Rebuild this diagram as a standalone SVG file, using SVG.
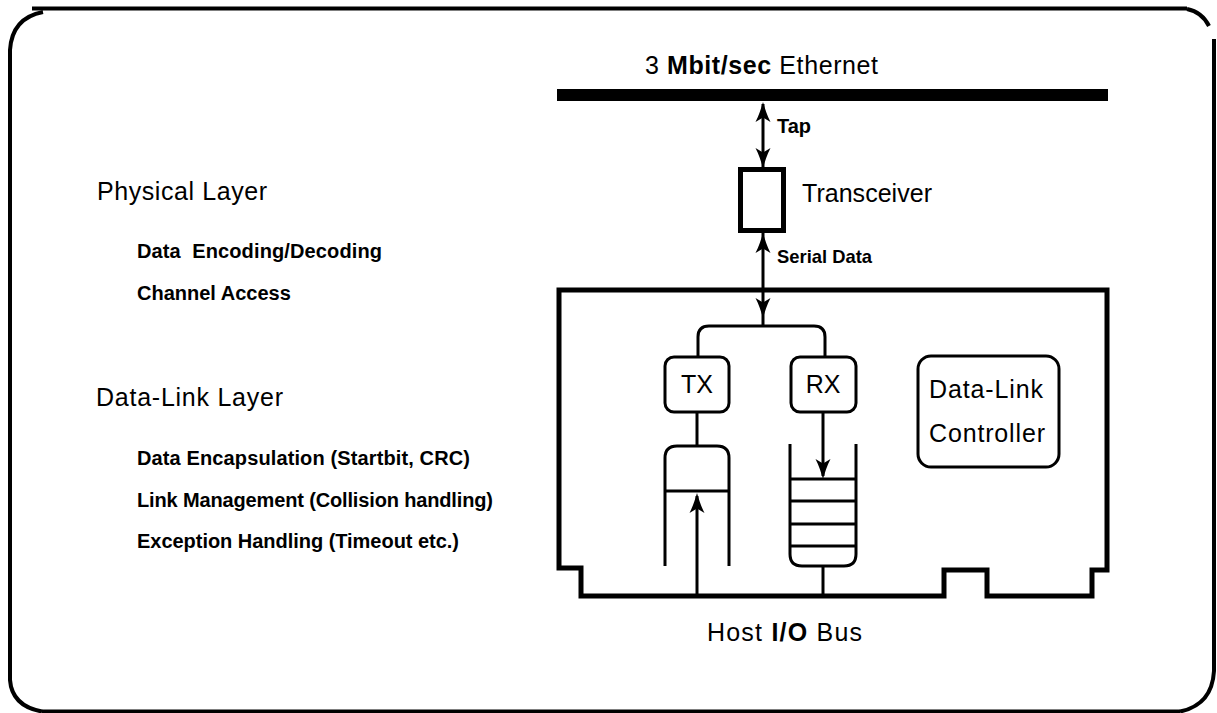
<svg xmlns="http://www.w3.org/2000/svg" width="1217" height="713" viewBox="0 0 1217 713">
<style>
.t{font-family:"Liberation Sans",Arial,Helvetica,sans-serif;fill:#000;}
.r{font-size:25px;}
.b{font-size:20px;font-weight:bold;}
.ln{fill:none;stroke:#000;stroke-width:3;}
.fr{fill:none;stroke:#000;stroke-width:4;}
.card{fill:none;stroke:#000;stroke-width:5;stroke-linejoin:miter;}
</style>
<defs>
<path id="ah" d="M0,0 C2,7 4,13 7.5,20 L0,15.5 L-7.5,20 C-4,13 -2,7 0,0 Z" fill="#000"/>
</defs>
<rect width="1217" height="713" fill="#fff"/>
<g id="frame">
<path class="fr" d="M32,8.5 H1187" stroke-width="5"/>
<path class="fr" d="M43,12 Q12,18 10,50 V680 Q12,706 42,711.5"/>
<path class="fr" d="M42,711.5 H1180" stroke-width="2"/>
<path class="fr" d="M1187,9 Q1202,12 1209,26" stroke-width="3"/>
<path class="fr" d="M1214,39 V671 Q1212,705 1180,711.5" stroke-width="4"/>
</g>
<g id="ethernet">
<rect x="557" y="89" width="551" height="12" fill="#000"/>
<text class="t r" x="645" y="74" textLength="233" lengthAdjust="spacing">3 <tspan font-weight="bold">Mbit/sec</tspan> Ethernet</text>
</g>
<g id="transceiver">
<rect x="740.5" y="169.5" width="43" height="61" fill="none" stroke="#000" stroke-width="5"/>
<text class="t r" x="802" y="202" textLength="130" lengthAdjust="spacing">Transceiver</text>
</g>
<g id="card">
<path class="card" d="M559,290 V568 H581 V596 H944 V570 H987 V596 H1092 V570 H1107 V290 Z"/>
</g>
<g id="tx">
<rect class="ln" x="665" y="357" width="64" height="55" rx="9"/>
<text class="t r" x="697" y="393" text-anchor="middle">TX</text>
</g>
<g id="rx">
<rect class="ln" x="791" y="357" width="65" height="55" rx="9"/>
<text class="t r" x="823" y="393" text-anchor="middle">RX</text>
</g>
<g id="tx-buffer">
<path class="ln" d="M665,566 V458 Q665,446 677,446 H717 Q729,446 729,458 V566"/>
<path class="ln" d="M665,491 H729"/>
</g>
<g id="rx-queue">
<path class="ln" d="M790,444 V554 Q790,566 802,566 H844 Q856,566 856,554 V444"/>
<path class="ln" d="M790,479 H856 M790,501 H856 M790,524 H856 M790,546 H856"/>
</g>
<g id="dlc">
<rect class="ln" x="918" y="356" width="141" height="111" rx="13"/>
<text class="t r" x="929" y="398" textLength="114" lengthAdjust="spacing">Data-Link</text>
<text class="t r" x="929" y="442" textLength="116" lengthAdjust="spacing">Controller</text>
</g>
<g id="left-text">
<text class="t r" x="97" y="200" textLength="170" lengthAdjust="spacing">Physical Layer</text>
<text class="t b" x="137" y="258" xml:space="preserve" textLength="245" lengthAdjust="spacing">Data  Encoding/Decoding</text>
<text class="t b" x="137" y="300">Channel Access</text>
<text class="t r" x="96" y="406" textLength="187" lengthAdjust="spacing">Data-Link Layer</text>
<text class="t b" x="137" y="465" textLength="333" lengthAdjust="spacing">Data Encapsulation (Startbit, CRC)</text>
<text class="t b" x="137" y="507" textLength="356" lengthAdjust="spacing">Link Management (Collision handling)</text>
<text class="t b" x="137" y="548" textLength="322" lengthAdjust="spacing">Exception Handling (Timeout etc.)</text>
</g>
<g id="host-bus">
<text class="t r" x="707" y="641" textLength="155" lengthAdjust="spacing">Host <tspan font-weight="bold">I/O</tspan> Bus</text>
</g>
<g id="connectors">
<path class="ln" d="M763,104 V168"/>
<use href="#ah" transform="translate(763,102)"/>
<use href="#ah" transform="translate(763,168) rotate(180)"/>
<text class="t b" x="777" y="133">Tap</text>
<path class="ln" d="M763,233 V326"/>
<use href="#ah" transform="translate(763,233)"/>
<use href="#ah" transform="translate(763,318) rotate(180)"/>
<text class="t b" x="777" y="263" style="font-size:19px" textLength="95" lengthAdjust="spacingAndGlyphs">Serial Data</text>
<path class="ln" d="M698,357 V337 Q698,326 709,326 H814 Q825,326 825,337 V357"/>
<path class="ln" d="M697,412 V446"/>
<path class="ln" d="M697,596 V496"/>
<use href="#ah" transform="translate(697,493)"/>
<path class="ln" d="M823,412 V476"/>
<use href="#ah" transform="translate(823,479) rotate(180)"/>
<path class="ln" d="M823,566 V596"/>
</g>
</svg>
